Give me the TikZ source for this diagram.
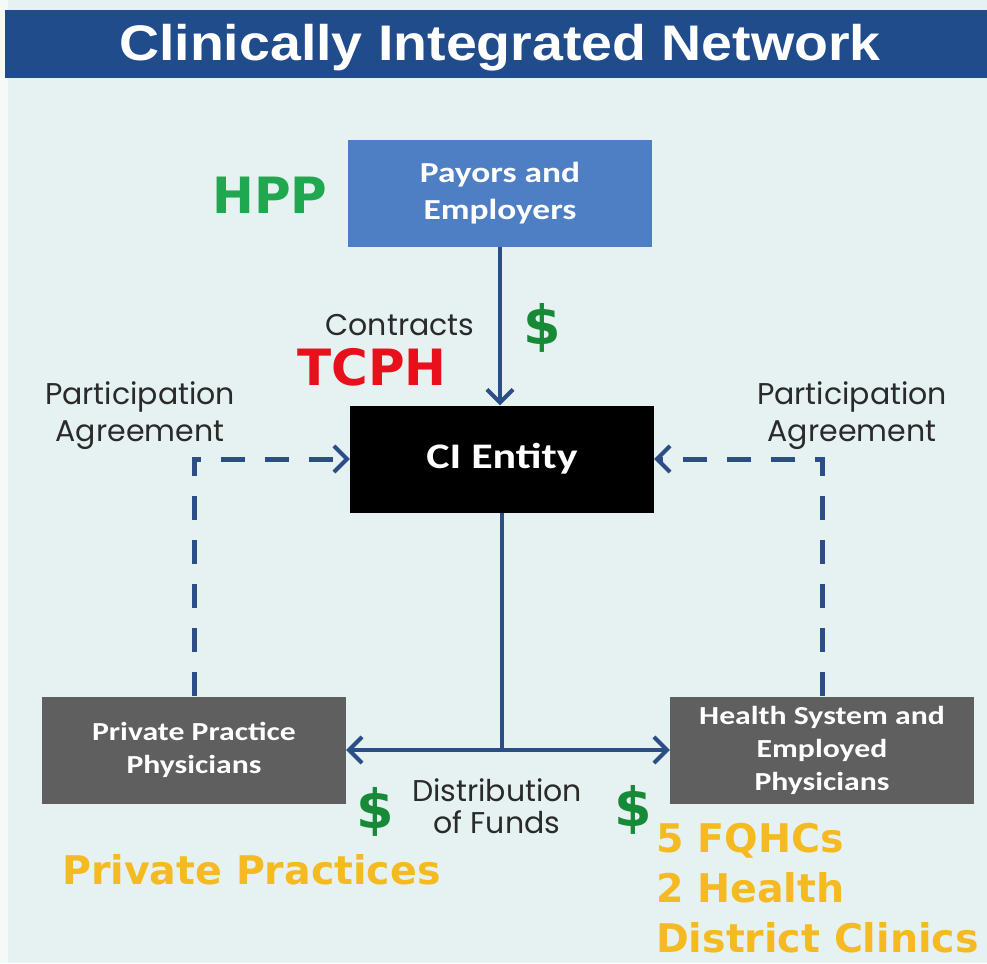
\documentclass[tikz,border=0pt]{standalone}
\usepackage{fontspec}
\usepackage{graphicx}
\setmainfont{Liberation Sans}
\newfontfamily\labelfont{Poppins}
\newfontfamily\boxfont{Carlito}[FakeStretch=1.22]
\newfontfamily\notefont{DejaVu Sans}
\usetikzlibrary{arrows.meta}

\definecolor{pagebg}{HTML}{E6F2F1}
\definecolor{bandblue}{HTML}{214C8C}
\definecolor{payblue}{HTML}{4E7FC4}
\definecolor{flowblue}{HTML}{2B4E86}
\definecolor{boxgray}{HTML}{5F5F5F}
\definecolor{textgray}{HTML}{2A2A2A}
\definecolor{hppgreen}{HTML}{1FA84F}
\definecolor{cashgreen}{HTML}{178A38}
\definecolor{tcphred}{HTML}{E8101A}
\definecolor{noteorange}{HTML}{F5BA22}

\tikzset{
    box/.style={minimum width=304pt, minimum height=107pt, inner sep=0pt,
        align=center, text=white},
    flow/.style={draw=flowblue, line width=4pt},
    tip/.style={-{Straight Barb[length=13pt,width=26pt,line width=4pt]}},
    agree/.style={flow, tip, line width=5pt, dash pattern=on 24pt off 20pt},
    label/.style={font=\labelfont\fontsize{30}{37}\selectfont, text=textgray, align=center},
    cash/.style={font=\notefont\bfseries\fontsize{54}{54}\selectfont, text=cashgreen},
    tag/.style={font=\notefont\bfseries\fontsize{50}{50}\selectfont},
    site/.style={font=\notefont\bfseries\fontsize{39.5}{50}\selectfont, text=noteorange,
        align=left, anchor=west, inner sep=0pt}
}

\begin{document}
\begin{tikzpicture}[x=1pt, y=-1pt]
    \useasboundingbox (0, 0) rectangle (987, 963);
    \fill[pagebg] (0, 0) rectangle (987, 963);
    \fill[white!60!pagebg] (0, 0) rectangle (8, 963);

    % title band
    \fill[bandblue] (5, 10) rectangle (987, 78);
    \node[text=white, font=\bfseries\fontsize{50}{50}\selectfont] (title) at (500, 48)
        {\scalebox{1.11}[1]{Clinically Integrated Network}};

    % boxes
    \node[box, fill=payblue, font=\boxfont\bfseries\fontsize{29}{37}\selectfont] (payors) at (500, 193)
        {Payors and\\Employers};
    \node[box, fill=black, font=\boxfont\bfseries\fontsize{36}{36}\selectfont] (ci) at (502, 459)
        {CI Entity};
    \node[box, fill=boxgray, font=\boxfont\bfseries\fontsize{26}{33}\selectfont] (ppp) at (194, 750)
        {Private Practice\\Physicians};
    \node[box, fill=boxgray, font=\boxfont\bfseries\fontsize{26}{33}\selectfont] (hs) at (822, 750)
        {Health System and\\Employed\\Physicians};

    % contracts
    \draw[flow, tip] (payors.south) -- (payors.south |- ci.north);
    \node[label] (contracts) at (400, 325) {Contracts};
    \node[cash] (cashtop) at (542, 328) {\$};
    \node[tag, text=hppgreen] (hpp) at (270, 195) {HPP};
    \node[tag, text=tcphred] (tcph) at (372, 367) {TCPH};

    % participation agreements
    \draw[agree] (ppp.north) |- (ci.west);
    \draw[agree] (hs.north) |- (ci.east);
    \node[label] (leftpa) at (140, 416) {Participation\\Agreement};
    \node[label] (rightpa) at (852, 416) {Participation\\Agreement};

    % distribution of funds
    \coordinate (split) at (ci.south |- ppp.east);
    \draw[flow] (ci.south) -- (split);
    \draw[flow, tip] (split) -- (ppp.east);
    \draw[flow, tip] (split) -- (hs.west);
    \node[label, font=\labelfont\fontsize{30}{32}\selectfont] (funds) at (497, 806) {Distribution\\of Funds};
    \node[cash] (cashleft) at (375, 812) {\$};
    \node[cash] (cashright) at (633, 810) {\$};

    % sites
    \node[site] (private) at (62, 870) {Private Practices};
    \node[site] (clinics) at (656, 888) {5 FQHCs\\2 Health\\District Clinics};
\end{tikzpicture}
\end{document}
